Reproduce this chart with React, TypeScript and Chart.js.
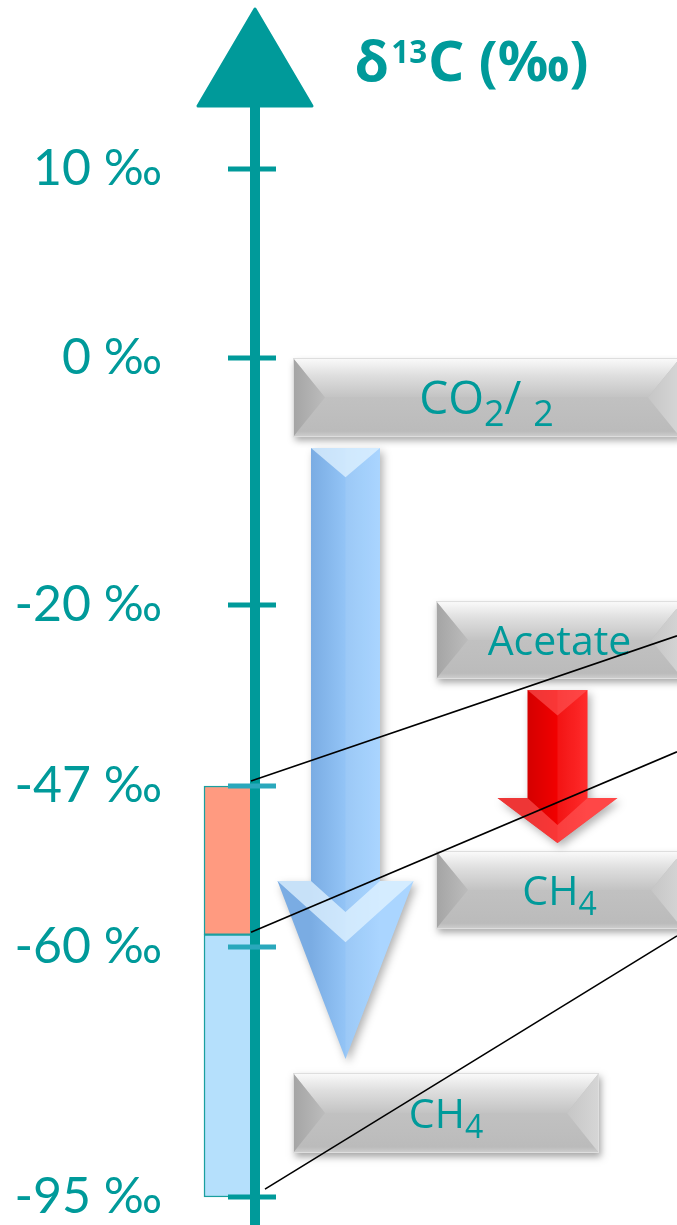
import React, { useEffect, useRef } from 'react';
import { Chart, registerables, LinearScale } from 'chart.js';

// ---------------- data ----------------
const axisTickValues = [10, 0, -20, -47, -60, -95];
const highlightedTicks = [-47, -60];
const axisTitle = 'δ¹³C (‰)';

const rangeLabels = ['Acetate → CH₄', 'CO₂ → CH₄'];
const rangeTop = [-47, -59];
const rangeBottom = [-59, -95];

const guideLabels = ['guide A', 'guide B', 'guide C'];
const guideStart = [-46.25, -58.8, -93.9];
const guideEnd = [-24.6, -41.9, -59.1];

const boxLabels = ['CO₂/ ₂', 'Acetate', 'CH₄', 'CH₄'];
const boxTop = [0, -19.68, -52.25, -77.64];
const boxBottom = [-6.4, -31.04, -58.55, -88.84];

const arrowLabels = ['CO₂ reduction', 'Acetate fermentation'];
const arrowStart = [-7.29, -32.68];
const arrowHeadAt = [-54.67, -47.97];
const arrowEnd = [-75.68, -51.6];

// ---------------- layout & style ----------------
const W = 677;
const H = 1225;
const TEAL = '#009a9a';
const TEAL_LIGHT = '#2aa8bc';
const AXIS_X = 255;
const axisAnchors: number[][] = [
  [18.94, 0],
  [10, 169 / H],
  [0, 358 / H],
  [-20, 605 / H],
  [-47, 786 / H],
  [-60, 947 / H],
  [-95, 1197 / H],
  [-98.92, 1],
];
const RANGE_X = 228;
const RANGE_W = 48;
const rangeColors = ['#ff9a80', '#b5e0fc'];
const guideX0 = [251, 251, 265];
const guideX1 = [W, W, W];
const boxX = [
  [293, 680],
  [436, 683],
  [436, 683],
  [293, 599],
];
const boxFont = [46, 41, 41, 41];
const arrowX = [345.5, 557.5];
const arrowShaftHalf = [34.5, 30];
const arrowHeadHalf = [68, 60];
const arrowPalettes = [
  { dark: '#7aace3', mid: '#93c4f6', light: '#a3d2ff', bevel: 'rgba(225,243,255,0.75)' },
  { dark: '#d40000', mid: '#f20000', light: '#ff1a1a', bevel: 'rgba(255,90,90,0.6)' },
];

const LABEL_FONT = 'Lato, "DejaVu Sans", sans-serif';
const BOX_FONT = '"Open Sans", "Noto Sans", sans-serif';
const TITLE_FONT = '"Noto Sans", "Open Sans", sans-serif';

// ---------------- schematic (piece-wise) scale ----------------
class SchematicScale extends LinearScale {
  static id = 'schematic';
  static defaults = {};
  fracOf(value: number) {
    const a = (this.options as any).anchors as number[][];
    let i = 0;
    while (i < a.length - 2 && value < a[i + 1][0]) i++;
    const [v0, f0] = a[i];
    const [v1, f1] = a[i + 1];
    return f0 + ((value - v0) * (f1 - f0)) / (v1 - v0);
  }
  getPixelForValue(value: any) {
    if (value === null || value === undefined || isNaN(value)) return NaN;
    return this.top + this.fracOf(+value) * (this.bottom - this.top);
  }
  getValueForPixel(pixel: number) {
    const a = (this.options as any).anchors as number[][];
    const f = (pixel - this.top) / (this.bottom - this.top);
    let i = 0;
    while (i < a.length - 2 && f > a[i + 1][1]) i++;
    const [v0, f0] = a[i];
    const [v1, f1] = a[i + 1];
    return v0 + ((f - f0) * (v1 - v0)) / (f1 - f0);
  }
}

Chart.register(...registerables, SchematicScale as any);

// ---------------- rich text helpers ----------------
const SUB: Record<string, string> = { '₀': '0', '₁': '1', '₂': '2', '₃': '3', '₄': '4', '₅': '5', '₆': '6', '₇': '7', '₈': '8', '₉': '9' };
const SUP: Record<string, string> = { '⁰': '0', '¹': '1', '²': '2', '³': '3', '⁴': '4', '⁵': '5', '⁶': '6', '⁷': '7', '⁸': '8', '⁹': '9' };

type Run = { t: string; kind: 0 | 1 | -1 };
function splitRuns(text: string): Run[] {
  const runs: Run[] = [];
  for (const ch of text) {
    let kind: 0 | 1 | -1 = 0;
    let c = ch;
    if (SUB[ch]) { kind = -1; c = SUB[ch]; }
    else if (SUP[ch]) { kind = 1; c = SUP[ch]; }
    const last = runs[runs.length - 1];
    if (last && last.kind === kind) last.t += c;
    else runs.push({ t: c, kind });
  }
  return runs;
}

function richText(ctx: CanvasRenderingContext2D, text: string, x: number, y: number, size: number, family: string, weight: string, align: 'left' | 'center', color: string, subScale = 0.78, supScale = 0.5) {
  const runs = splitRuns(text);
  const fontFor = (k: number) => `${weight} ${k === 0 ? size : k === -1 ? size * subScale : size * supScale}px ${family}`;
  let total = 0;
  const widths = runs.map((r) => {
    ctx.font = fontFor(r.kind);
    const w = ctx.measureText(r.t).width + (r.kind === 1 ? size * 0.06 : 0);
    total += w;
    return w;
  });
  let cx = align === 'center' ? x - total / 2 : x;
  ctx.fillStyle = color;
  ctx.textAlign = 'left';
  ctx.textBaseline = 'alphabetic';
  runs.forEach((r, i) => {
    ctx.font = fontFor(r.kind);
    const dy = r.kind === -1 ? size * 0.25 : r.kind === 1 ? -size * 0.33 : 0;
    ctx.fillText(r.t, cx + (r.kind === 1 ? size * 0.04 : 0), y + dy);
    cx += widths[i];
  });
}

// ---------------- decorations ----------------
function drawBox(ctx: CanvasRenderingContext2D, x0: number, y0: number, x1: number, y1: number) {
  const ym = (y0 + y1) / 2;
  const b = 32;
  ctx.save();
  ctx.shadowColor = 'rgba(0,0,0,0.35)';
  ctx.shadowBlur = 7;
  ctx.shadowOffsetX = 2;
  ctx.shadowOffsetY = 4;
  ctx.fillStyle = '#bfbfbf';
  ctx.fillRect(x0, y0, x1 - x0, y1 - y0);
  ctx.restore();

  const poly = (pts: number[][], fill: string | CanvasGradient) => {
    ctx.beginPath();
    ctx.moveTo(pts[0][0], pts[0][1]);
    for (let i = 1; i < pts.length; i++) ctx.lineTo(pts[i][0], pts[i][1]);
    ctx.closePath();
    ctx.fillStyle = fill;
    ctx.fill();
  };
  let g = ctx.createLinearGradient(0, y0, 0, ym);
  g.addColorStop(0, '#fbfbfb');
  g.addColorStop(0.45, '#dedede');
  g.addColorStop(1, '#c3c3c3');
  poly([[x0, y0], [x1, y0], [x1 - b, ym], [x0 + b, ym]], g);
  g = ctx.createLinearGradient(0, ym, 0, y1);
  g.addColorStop(0, '#c1c1c1');
  g.addColorStop(0.85, '#bbbbbb');
  g.addColorStop(1, '#cfcfcf');
  poly([[x0, y1], [x1, y1], [x1 - b, ym], [x0 + b, ym]], g);
  g = ctx.createLinearGradient(x0, 0, x0 + b, 0);
  g.addColorStop(0, '#a4a4a4');
  g.addColorStop(1, '#bcbcbc');
  poly([[x0, y0], [x0 + b, ym], [x0, y1]], g);
  g = ctx.createLinearGradient(x1 - b, 0, x1, 0);
  g.addColorStop(0, '#c6c6c6');
  g.addColorStop(1, '#d6d6d6');
  poly([[x1, y0], [x1 - b, ym], [x1, y1]], g);
  ctx.strokeStyle = '#dedede';
  ctx.lineWidth = 1;
  ctx.strokeRect(x0 + 0.5, y0 + 0.5, x1 - x0 - 1, y1 - y0 - 1);
}

function drawArrow(ctx: CanvasRenderingContext2D, cx: number, sh: number, hh: number, yTop: number, yHead: number, yTip: number, pal: any) {
  const outline = () => {
    ctx.beginPath();
    ctx.moveTo(cx - sh, yTop);
    ctx.lineTo(cx + sh, yTop);
    ctx.lineTo(cx + sh, yHead);
    ctx.lineTo(cx + hh, yHead);
    ctx.lineTo(cx, yTip);
    ctx.lineTo(cx - hh, yHead);
    ctx.lineTo(cx - sh, yHead);
    ctx.closePath();
  };
  ctx.save();
  ctx.shadowColor = 'rgba(0,0,0,0.3)';
  ctx.shadowBlur = 8;
  ctx.shadowOffsetX = 3;
  ctx.shadowOffsetY = 4;
  const g = ctx.createLinearGradient(cx - sh, 0, cx + sh, 0);
  g.addColorStop(0, pal.dark);
  g.addColorStop(0.5, pal.mid);
  g.addColorStop(1, pal.light);
  outline();
  ctx.fillStyle = g;
  ctx.fill();
  ctx.restore();
  ctx.save();
  outline();
  ctx.clip();
  ctx.fillStyle = 'rgba(255,255,255,0.08)';
  ctx.fillRect(cx, yTop, hh + 2, yTip - yTop);
  ctx.fillStyle = pal.bevel;
  ctx.beginPath();
  ctx.moveTo(cx - sh, yTop);
  ctx.lineTo(cx + sh, yTop);
  ctx.lineTo(cx, yTop + sh * 0.85);
  ctx.closePath();
  ctx.fill();
  const d = (hh - sh) * 0.9;
  ctx.beginPath();
  ctx.moveTo(cx - hh, yHead);
  ctx.lineTo(cx - sh, yHead);
  ctx.lineTo(cx, yHead + sh * 0.9);
  ctx.lineTo(cx + sh, yHead);
  ctx.lineTo(cx + hh, yHead);
  ctx.lineTo(cx, yHead + sh * 0.9 + d);
  ctx.closePath();
  ctx.fill();
  ctx.restore();
}

function drawAxis(chart: any) {
  const ctx: CanvasRenderingContext2D = chart.ctx;
  const y = chart.scales.y;
  const x = chart.chartArea.left;
  ctx.save();
  ctx.fillStyle = TEAL;
  ctx.strokeStyle = TEAL;
  ctx.lineJoin = 'round';
  ctx.lineWidth = 3;
  ctx.beginPath();
  ctx.moveTo(x, 9);
  ctx.lineTo(x + 57, 106);
  ctx.lineTo(x - 57, 106);
  ctx.closePath();
  ctx.fill();
  ctx.stroke();
  ctx.fillRect(x - 5, 100, 10, H - 100);
  axisTickValues.forEach((v) => {
    const py = Math.round(y.getPixelForValue(v));
    ctx.strokeStyle = highlightedTicks.includes(v) ? TEAL_LIGHT : TEAL;
    ctx.lineWidth = 5;
    ctx.beginPath();
    ctx.moveTo(x - 27, py);
    ctx.lineTo(x + 21, py);
    ctx.stroke();
  });
  richText(ctx, axisTitle, 355, 81, 56, TITLE_FONT, 'bold', 'left', TEAL, 0.78, 0.56);
  ctx.restore();
}

const decorPlugin = {
  id: 'decor',
  beforeDatasetsDraw(chart: any) {
    const ctx: CanvasRenderingContext2D = chart.ctx;
    const y = chart.scales.y;
    chart.$axisDrawn = false;
    boxLabels.forEach((label, i) => {
      const y0 = y.getPixelForValue(boxTop[i]);
      const y1 = y.getPixelForValue(boxBottom[i]);
      const [x0, x1] = boxX[i];
      drawBox(ctx, x0, y0, x1, y1);
      richText(ctx, label, (x0 + x1) / 2, (y0 + y1) / 2 + boxFont[i] * 0.36, boxFont[i], BOX_FONT, 'normal', 'center', TEAL);
    });
    arrowLabels.forEach((_, i) => {
      drawArrow(
        ctx,
        arrowX[i],
        arrowShaftHalf[i],
        arrowHeadHalf[i],
        y.getPixelForValue(arrowStart[i]),
        y.getPixelForValue(arrowHeadAt[i]),
        y.getPixelForValue(arrowEnd[i]),
        arrowPalettes[i]
      );
    });
  },
  beforeDatasetDraw(chart: any, args: any) {
    if (args.meta.type === 'line' && !chart.$axisDrawn) {
      drawAxis(chart);
      chart.$axisDrawn = true;
    }
  },
  afterDatasetsDraw(chart: any) {
    if (!chart.$axisDrawn) drawAxis(chart);
  },
};

// ---------------- component ----------------
export default function App() {
  const ref = useRef<HTMLCanvasElement>(null);
  useEffect(() => {
    document.body.style.margin = '0';
    const guideSets = guideLabels.map((label, i) => ({
      type: 'line' as const,
      label,
      data: [
        { x: guideX0[i], y: guideStart[i] },
        { x: guideX1[i], y: guideEnd[i] },
      ],
      borderColor: '#000000',
      borderWidth: 1.6,
      pointRadius: 0,
      fill: false,
      clip: false as any,
      order: 0,
    }));
    const rangeSets = rangeLabels.map((label, i) => ({
      type: 'bar' as const,
      label,
      data: [{ x: RANGE_X, y: [rangeBottom[i], rangeTop[i]] }],
      backgroundColor: rangeColors[i],
      borderColor: '#1a9f9f',
      borderWidth: 1.5,
      borderSkipped: false as any,
      barThickness: RANGE_W,
      grouped: false,
      clip: false as any,
      order: 1,
    }));
    const chart = new Chart(ref.current as HTMLCanvasElement, {
      type: 'bar',
      data: { datasets: [...guideSets, ...rangeSets] as any },
      options: {
        animation: false,
        responsive: false,
        devicePixelRatio: 1,
        layout: { padding: 0 },
        plugins: { legend: { display: false }, tooltip: { enabled: false } },
        scales: {
          x: { type: 'linear', display: false, offset: false, min: AXIS_X, max: W },
          y: {
            type: 'schematic' as any,
            position: 'left',
            min: -98.92,
            max: 18.94,
            anchors: axisAnchors,
            afterBuildTicks: (s: any) => {
              s.ticks = axisTickValues.map((v) => ({ value: v }));
            },
            afterFit: (s: any) => {
              s.width = AXIS_X;
              s.paddingTop = 0;
              s.paddingBottom = 0;
            },
            border: { display: false },
            grid: { display: false, drawTicks: false, drawOnChartArea: false },
            ticks: {
              autoSkip: false,
              padding: 93,
              color: TEAL,
              font: { family: LABEL_FONT, size: 50 },
              callback: (v: any) => `${v} ‰`,
            },
          } as any,
        },
      },
      plugins: [decorPlugin],
    });
    return () => chart.destroy();
  }, []);
  return (
    <div style={{ width: W, height: H, overflow: 'hidden' }}>
      <canvas ref={ref} width={W} height={H} style={{ display: 'block', width: W, height: H }} />
    </div>
  );
}
